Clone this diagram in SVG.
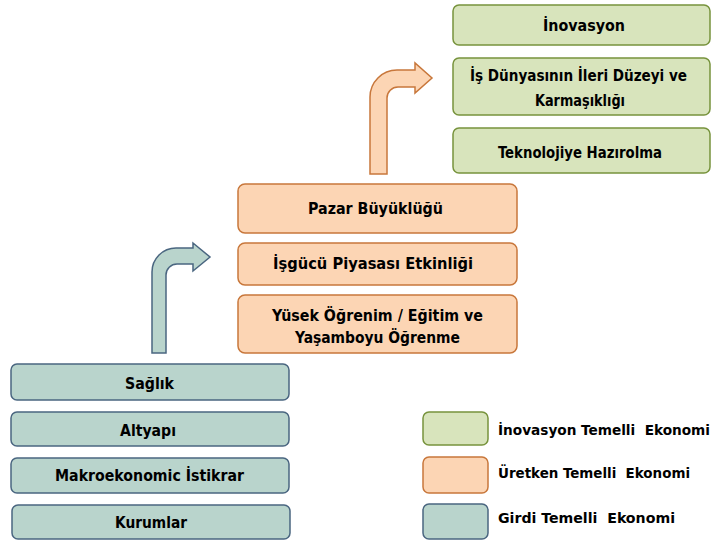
<svg xmlns="http://www.w3.org/2000/svg" width="720" height="541" viewBox="0 0 720 541">
<style>
text{font-family:"DejaVu Sans Condensed","DejaVu Sans","Liberation Sans",sans-serif;font-weight:bold;font-size:16.5px;fill:#000;white-space:pre}
.c{text-anchor:middle}
.l{font-size:14px}
.g{fill:#d8e4bc;stroke:#77933c;stroke-width:1.5}
.o{fill:#fcd5b4;stroke:#c8773b;stroke-width:1.5}
.b{fill:#b9d4cc;stroke:#4a6680;stroke-width:1.5}
</style>
<rect width="720" height="541" fill="#fff"/>
<g id="connectors">
<path class="b" d="M152,353 V272 A24,24 0 0 1 176,248 H193 V243 L210,257 L193,271 V264 H177 A11,11 0 0 0 166,275 V353 Z"/>
<path class="o" d="M370,174 V97 A27,27 0 0 1 397,70 H415 V63 L432,78 L415,93 V87 H398 A11,11 0 0 0 387,98 V174 Z"/>
</g>
<g id="inovasyon"><rect class="g" x="453" y="5" width="257" height="40" rx="6"/><text class="c" x="584" y="31" textLength="82" lengthAdjust="spacingAndGlyphs">İnovasyon</text></g>
<g id="is-dunyasi"><rect class="g" x="453" y="58" width="257" height="57" rx="6"/><text class="c" x="578.5" y="81" textLength="217" lengthAdjust="spacingAndGlyphs">İş Dünyasının İleri Düzeyi ve</text><text class="c" x="580" y="106" textLength="90" lengthAdjust="spacingAndGlyphs">Karmaşıklığı</text></g>
<g id="teknoloji"><rect class="g" x="453" y="128" width="257" height="45" rx="6"/><text class="c" x="580" y="158" textLength="164" lengthAdjust="spacingAndGlyphs">Teknolojiye Hazırolma</text></g>
<g id="pazar"><rect class="o" x="238" y="184" width="279" height="49" rx="7"/><text class="c" x="375.5" y="214" textLength="135" lengthAdjust="spacingAndGlyphs">Pazar Büyüklüğü</text></g>
<g id="isgucu"><rect class="o" x="238" y="243" width="279" height="42" rx="7"/><text class="c" x="373" y="269" textLength="200" lengthAdjust="spacingAndGlyphs">İşgücü Piyasası Etkinliği</text></g>
<g id="yuksek"><rect class="o" x="238" y="295" width="279" height="58" rx="7"/><text class="c" x="377.5" y="321" textLength="211" lengthAdjust="spacingAndGlyphs">Yüsek Öğrenim / Eğitim ve</text><text class="c" x="377.5" y="343" textLength="165" lengthAdjust="spacingAndGlyphs">Yaşamboyu Öğrenme</text></g>
<g id="saglik"><rect class="b" x="11" y="364" width="278" height="36" rx="6"/><text class="c" x="149.5" y="389" textLength="49" lengthAdjust="spacingAndGlyphs">Sağlık</text></g>
<g id="altyapi"><rect class="b" x="11" y="412" width="278" height="34" rx="6"/><text class="c" x="148" y="436" textLength="56" lengthAdjust="spacingAndGlyphs">Altyapı</text></g>
<g id="makro"><rect class="b" x="11" y="458" width="278" height="35" rx="6"/><text class="c" x="149.5" y="481" textLength="189" lengthAdjust="spacingAndGlyphs">Makroekonomic İstikrar</text></g>
<g id="kurumlar"><rect class="b" x="12" y="505" width="278" height="34" rx="6"/><text class="c" x="151" y="528" textLength="72" lengthAdjust="spacingAndGlyphs">Kurumlar</text></g>
<g id="legend-inovasyon"><rect class="g" x="423" y="412" width="65" height="33" rx="6"/><text class="l" x="498" y="435" textLength="212" lengthAdjust="spacingAndGlyphs">İnovasyon Temelli  Ekonomi</text></g>
<g id="legend-uretken"><rect class="o" x="423" y="457" width="65" height="36" rx="6"/><text class="l" x="498" y="478" textLength="192" lengthAdjust="spacingAndGlyphs">Üretken Temelli  Ekonomi</text></g>
<g id="legend-girdi"><rect class="b" x="423" y="504" width="65" height="35" rx="6"/><text class="l" x="498" y="523" textLength="177" lengthAdjust="spacingAndGlyphs">Girdi Temelli  Ekonomi</text></g>
</svg>
